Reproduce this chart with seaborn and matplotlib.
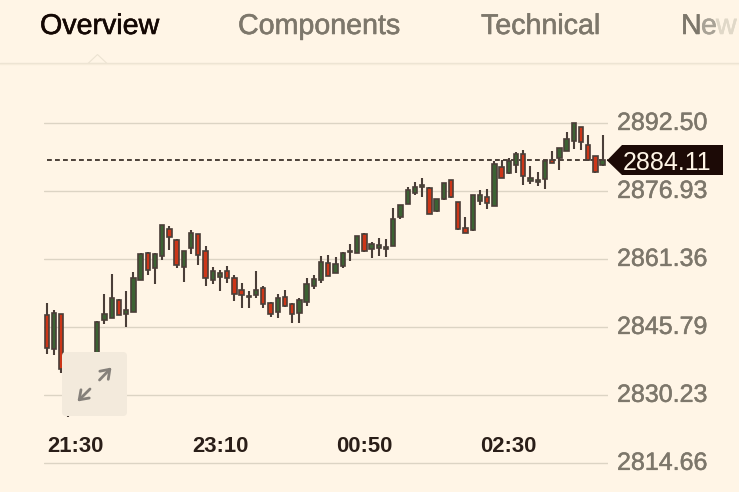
import numpy as np
import pandas as pd
import matplotlib
matplotlib.use("Agg")
import matplotlib.pyplot as plt
import matplotlib.patheffects as pe
from matplotlib.patches import FancyBboxPatch, Polygon, Rectangle
from matplotlib.transforms import ScaledTranslation
import seaborn as sns

highs = [2851.3,2849.8,2848.9,2839.3,2838.3,2840.2,2840.2,2847.3,2853.5,2858.0,
         2852.2,2854.1,2858.4,2862.8,2863.0,2862.8,2869.3,2869.0,2866.0,2863.4,
         2868.2,2867.3,2864.5,2859.7,2858.9,2859.8,2857.9,2856.0,2854.1,2858.7,
         2855.4,2851.6,2853.4,2854.4,2851.3,2852.6,2857.2,2857.9,2862.2,2862.4,
         2862.0,2863.0,2865.0,2866.8,2867.4,2865.4,2866.2,2866.0,2873.1,2873.8,
         2878.0,2879.2,2880.1,2877.9,2875.2,2878.9,2879.6,2874.6,2871.0,2876.2,
         2877.2,2877.6,2883.8,2884.1,2884.5,2886.0,2886.4,2882.8,2881.5,2884.1,
         2886.1,2887.0,2890.5,2892.6,2891.8,2889.9,2885.1,2889.9]
body_top = [2848.6,2849.0,2848.8,2835.6,2836.1,2837.2,2837.9,2847.1,2848.9,2852.6,
            2852.1,2849.8,2857.1,2862.5,2862.9,2862.6,2869.2,2868.3,2865.9,2863.3,
            2867.4,2867.2,2863.3,2858.7,2858.3,2858.7,2857.1,2854.4,2853.0,2854.4,
            2854.8,2851.4,2852.6,2852.7,2851.2,2852.0,2855.7,2856.9,2860.8,2860.6,
            2860.3,2862.8,2863.2,2866.7,2867.2,2864.8,2864.7,2864.3,2870.7,2873.8,
            2877.3,2878.0,2878.4,2877.8,2875.1,2878.9,2879.6,2874.5,2868.5,2876.1,
            2876.1,2875.7,2883.2,2882.5,2883.9,2885.4,2885.4,2880.0,2879.6,2883.9,
            2884.2,2887.0,2888.9,2892.5,2891.6,2887.6,2885.1,2884.1]
body_bottom = [2841.2,2840.9,2836.2,2829.2,2832.6,2832.6,2833.8,2836.1,2847.4,2847.9,
               2848.6,2848.9,2849.4,2856.6,2859.0,2859.4,2862.2,2866.6,2860.1,2859.6,
               2863.9,2862.3,2857.2,2856.6,2857.4,2857.1,2853.5,2853.2,2852.8,2853.2,
               2851.1,2848.8,2849.4,2850.7,2848.9,2849.1,2851.7,2855.3,2856.7,2857.5,
               2858.3,2859.9,2863.0,2862.9,2863.3,2863.8,2863.9,2863.7,2864.5,2871.0,
               2874.1,2876.5,2877.9,2871.8,2872.5,2875.1,2875.6,2868.4,2867.4,2868.0,
               2874.8,2874.2,2873.5,2880.1,2881.2,2882.9,2880.5,2879.4,2879.2,2879.7,
               2883.5,2884.6,2886.3,2888.6,2888.2,2884.1,2881.4,2882.9]
lows = [2839.7,2839.5,2835.3,2825.2,2829.2,2830.3,2831.5,2834.9,2846.6,2847.9,
        2848.6,2846.0,2849.3,2856.6,2857.9,2855.8,2861.2,2863.5,2859.4,2856.1,
        2862.5,2860.0,2855.4,2855.8,2854.2,2856.0,2851.9,2850.3,2850.2,2852.5,
        2850.3,2848.3,2848.0,2850.5,2846.7,2846.7,2850.8,2854.5,2856.0,2857.5,
        2858.2,2859.5,2861.1,2862.8,2863.0,2861.6,2862.2,2862.0,2864.4,2870.6,
        2874.1,2876.1,2875.7,2871.7,2872.2,2875.0,2875.5,2868.0,2867.4,2867.9,
        2873.9,2873.0,2873.5,2880.0,2880.9,2881.1,2878.5,2878.6,2878.2,2877.6,
        2883.4,2881.9,2886.2,2886.7,2886.5,2884.0,2881.2,2882.8]
falling = [0,2,3,10,14,17,18,21,22,25,26,27,30,31,33,34,39,44,53,56,57,58,61,63,66,70,74,75,76]

y_ticks = [2892.50, 2876.93, 2861.36, 2845.79, 2830.23, 2814.66]
y_labels = ["2892.50", "2876.93", "2861.36", "2845.79", "2830.23", "2814.66"]
x_ticks = [4, 24, 44, 64]
x_labels = ["21:30", "23:10", "00:50", "02:30"]
last_price = 2884.11
last_label = "2884.11"
tabs = ["Overview", "Components", "Technical"]

BG = "#fff5e6"
GRID = "#dcd4c4"
EDGE = "#4a3e38"
GREEN = "#3c6233"
RED = "#cc3618"
GREY = "#7d776b"
DARK = "#1c0a06"

sns.set_theme(style="white", rc={"font.family": ["Liberation Sans", "DejaVu Sans"]})
fig = plt.figure(figsize=(7.39, 4.92), dpi=100, facecolor=BG)
ax = fig.add_axes([44/739, (492-464.5)/492, 564/739, 344.5/492], facecolor=BG)

df = pd.DataFrame({"candle": np.arange(len(highs)), "high": highs, "low": lows,
                   "top": body_top, "bottom": body_bottom})
df["height"] = df["top"] - df["bottom"]
df["falling"] = df["candle"].isin(falling)

ax.axhline(last_price, xmin=3/564, color="#2e221c", lw=1.2, dashes=(2.9, 1.9), zorder=1.5)

wicks = df.melt(id_vars="candle", value_vars=["high", "low"], value_name="price")
sns.lineplot(data=wicks, x="candle", y="price", units="candle", estimator=None,
             color=EDGE, lw=1.5, solid_capstyle="butt", legend=False, ax=ax, zorder=2)

for flag, colour in [(False, GREEN), (True, RED)]:
    sub = df[df["falling"] == flag].sort_values("candle")
    sns.barplot(data=sub, x="candle", y="height", bottom=sub["bottom"].to_numpy(),
                native_scale=True, width=0.6, color=colour, saturation=1,
                edgecolor=EDGE, linewidth=1.2, errorbar=None, ax=ax, zorder=3)

ax.set_xlim(-0.374, 77.74)
ax.set_ylim(2814.41, 2893.3)
ax.set_yticks(y_ticks, y_labels)
ax.set_xticks(x_ticks, x_labels)
ax.yaxis.tick_right()
ax.set_xlabel("")
ax.set_ylabel("")
ax.grid(axis="y", color=GRID, lw=1.0)
ax.grid(axis="x", visible=False)
ax.set_axisbelow(True)
sns.despine(ax=ax, left=True, bottom=True, right=True, top=True)
ax.tick_params(axis="y", length=0, pad=6.5, labelsize=18, labelcolor=GREY)
ax.tick_params(axis="x", length=0, pad=-20.2, labelsize=15.8, labelcolor="#2a1e18")
lift = ScaledTranslation(0, 2.2/72*0.72*1.39, fig.dpi_scale_trans)
for lab in ax.get_yticklabels():
    lab.set_transform(lab.get_transform() + lift)
    lab.set_path_effects([pe.withStroke(linewidth=0.35, foreground=GREY)])
for lab in ax.get_xticklabels():
    lab.set_fontweight("bold")

# Overlay in pixel coordinates for the page furniture
ov = fig.add_axes([0, 0, 1, 1], facecolor="none", zorder=5)
ov.set_xlim(0, 739)
ov.set_ylim(492, 0)
ov.axis("off")

ov.add_patch(FancyBboxPatch((62, 352), 65, 64, boxstyle="round,pad=0,rounding_size=4",
                            mutation_scale=1, facecolor="#f3eadc", edgecolor="none"))
arrow = dict(arrowstyle="->,head_length=0.5,head_width=0.35", color="#85807a", lw=2, shrinkA=0, shrinkB=0)
ov.annotate("", xy=(77.5, 401.5), xytext=(90, 389), arrowprops=arrow)
ov.annotate("", xy=(111.5, 367.5), xytext=(99.5, 380), arrowprops=arrow)

ov.add_patch(Polygon([(607, 160.5), (622, 145), (723, 145), (723, 175), (622, 175)],
                     closed=True, facecolor=DARK, edgecolor="none"))
ov.text(667.5, 160.5, last_label, color="#fff5e6", fontsize=18, ha="center", va="center_baseline")

ov.axhline(63.2, color="#ece3d2", lw=1)
ov.axhline(64.2, color="#f6ecdb", lw=1)
ov.add_patch(Polygon([(88, 63.5), (97.5, 54.5), (107, 63.5)], closed=True,
                     facecolor=BG, edgecolor="#ece3d2", lw=0.8))
ov.add_patch(Rectangle((89, 62.8), 17, 1.4, facecolor=BG, edgecolor="none"))

tab_fx = [pe.withStroke(linewidth=0.4)]
def tab(x, s, colour):
    t = ov.text(x, 26, s, fontsize=20.6, color=colour, va="center", ha="left")
    t.set_path_effects([pe.withStroke(linewidth=0.4, foreground=colour)])
tab(40, tabs[0], "#140804")
tab(238, tabs[1], GREY)
tab(481, tabs[2], GREY)
tab(681, "N", GREY)
tab(701, "e", "#a8a296")
tab(716, "w", "#e0d8c8")

fig.savefig("out.png", dpi=100, facecolor=BG)
